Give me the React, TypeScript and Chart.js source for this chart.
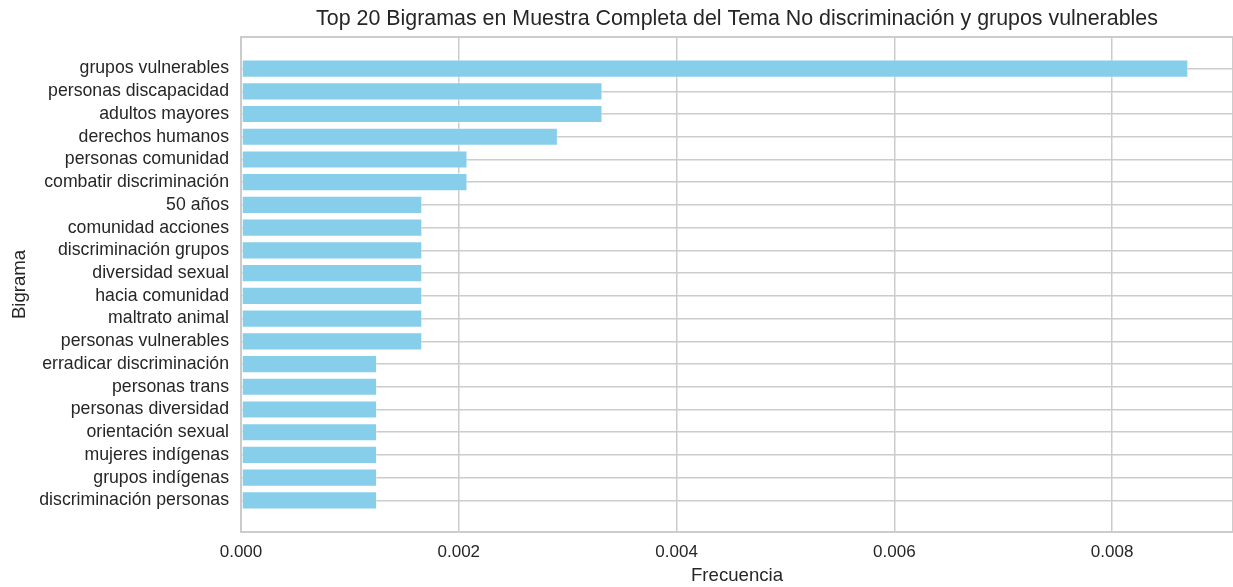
import React, { useEffect, useRef } from "react";
import { Chart, registerables } from "chart.js";

Chart.register(...registerables);

const TITLE = "Top 20 Bigramas en Muestra Completa del Tema No discriminación y grupos vulnerables";
const X_LABEL = "Frecuencia";
const Y_LABEL = "Bigrama";

const bigrams: string[] = [
  "grupos vulnerables",
  "personas discapacidad",
  "adultos mayores",
  "derechos humanos",
  "personas comunidad",
  "combatir discriminación",
  "50 años",
  "comunidad acciones",
  "discriminación grupos",
  "diversidad sexual",
  "hacia comunidad",
  "maltrato animal",
  "personas vulnerables",
  "erradicar discriminación",
  "personas trans",
  "personas diversidad",
  "orientación sexual",
  "mujeres indígenas",
  "grupos indígenas",
  "discriminación personas",
];

const frequencies: number[] = [
  0.0087, 0.00332, 0.00332, 0.00291, 0.00208, 0.00208, 0.001665, 0.001665,
  0.001665, 0.001665, 0.001665, 0.001665, 0.001665, 0.00125, 0.00125, 0.00125,
  0.00125, 0.00125, 0.00125, 0.00125,
];

const xTickStep = 0.002;
const xMax = 0.00911;

const TEXT = "#262626";
const GRID = "#cccccc";
const BAR = "#87ceeb";
const FONT = "'Liberation Sans', Arial, sans-serif";

const spinePlugin = {
  id: "spines",
  afterDraw(chart: any) {
    const { ctx, chartArea } = chart;
    ctx.save();
    ctx.strokeStyle = GRID;
    ctx.lineWidth = 2;
    ctx.strokeRect(
      chartArea.left,
      chartArea.top,
      chartArea.right - chartArea.left,
      chartArea.bottom - chartArea.top
    );
    ctx.restore();
  },
};

export default function App() {
  const ref = useRef<HTMLCanvasElement | null>(null);

  useEffect(() => {
    if (!ref.current) return;
    const n = bigrams.length;
    const chart = new Chart(ref.current, {
      type: "bar",
      data: {
        datasets: [
          {
            data: frequencies.map((v, i) => ({ x: v, y: i })) as any,
            backgroundColor: BAR,
            borderColor: "rgba(255,255,255,0.45)",
            borderWidth: 1,
            borderSkipped: false,
            categoryPercentage: 1,
            barPercentage: 0.8,
          } as any,
        ],
      },
      options: {
        animation: false,
        responsive: false,
        indexAxis: "y",
        layout: { padding: { top: 0, right: 0, bottom: 0, left: 0 } },
        font: { family: FONT },
        plugins: {
          legend: { display: false },
          tooltip: { enabled: false },
          title: {
            display: true,
            text: TITLE,
            fullSize: false,
            color: TEXT,
            font: { family: FONT, size: 21.4, weight: "normal" },
            padding: { top: 6.5, bottom: 4.8 },
          },
        },
        scales: {
          x: {
            type: "linear",
            position: "bottom",
            min: 0,
            max: xMax,
            offset: false,
            border: { display: false },
            grid: { color: GRID, lineWidth: 1.5, drawTicks: false },
            ticks: {
              stepSize: xTickStep,
              includeBounds: false,
              padding: 10,
              color: TEXT,
              font: { family: FONT, size: 17 },
              callback: (v: any) => Number(v).toFixed(3),
            },
            title: {
              display: true,
              text: X_LABEL,
              color: TEXT,
              font: { family: FONT, size: 18.6 },
              padding: { top: 0, bottom: 0 },
            },
            afterFit: (s: any) => {
              s.height = 55;
            },
          },
          y: {
            type: "linear",
            reverse: true,
            offset: false,
            min: -1.39,
            max: n - 1 + 1.39,
            border: { display: false },
            grid: { color: GRID, lineWidth: 1.5, drawTicks: false, offset: false },
            afterBuildTicks: (s: any) => {
              s.ticks = bigrams.map((_, i) => ({ value: i }));
            },
            ticks: {
              autoSkip: false,
              padding: 12,
              color: TEXT,
              font: { family: FONT, size: 17.7 },
              callback: (v: any) => bigrams[Math.round(Number(v))] ?? "",
            },
            title: {
              display: true,
              text: Y_LABEL,
              color: TEXT,
              font: { family: FONT, size: 18.6 },
              padding: { top: 9, bottom: 0 },
            },
            afterFit: (s: any) => {
              s.width = 241;
            },
          },
        },
      } as any,
      plugins: [spinePlugin],
    });
    return () => chart.destroy();
  }, []);

  return (
    <div style={{ position: "fixed", left: 0, top: 0, width: 1233, height: 587, background: "#fff" }}>
      <canvas ref={ref} width={1233} height={587} style={{ display: "block" }} />
    </div>
  );
}
